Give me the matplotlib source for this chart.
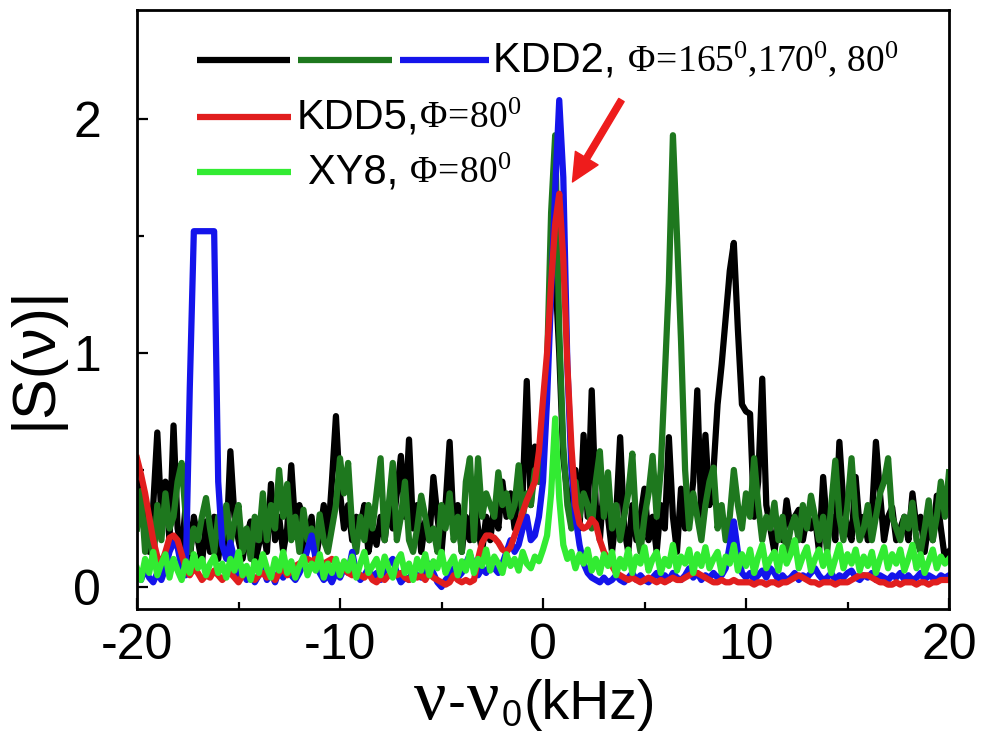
import numpy as np
import matplotlib
matplotlib.use("Agg")
import matplotlib.pyplot as plt
from matplotlib.offsetbox import TextArea, HPacker, AnnotationBbox

plt.rcParams['font.family'] = ['Liberation Sans', 'DejaVu Sans']
plt.rcParams['mathtext.fontset'] = 'custom'
plt.rcParams['mathtext.rm'] = 'Liberation Serif'
plt.rcParams['mathtext.it'] = 'Liberation Serif:italic'
plt.rcParams['mathtext.bf'] = 'Liberation Serif:bold'
plt.rcParams['mathtext.sf'] = 'Liberation Sans'
plt.rcParams['axes.unicode_minus'] = False

# frequency grid (kHz), 0.2 kHz step from -20 to 20
freq = np.linspace(-20, 20, 201)

kdd2_165 = [
    0.30, 0.45, 0.25, 0.15, 0.35, 0.66, 0.30, 0.45, 0.20, 0.69,
    0.25, 0.15, 0.35, 0.12, 0.30, 0.20, 0.10, 0.28, 0.15, 0.30,
    0.12, 0.25, 0.18, 0.58, 0.30, 0.20, 0.12, 0.22, 0.28, 0.10,
    0.18, 0.25, 0.15, 0.44, 0.20, 0.30, 0.15, 0.25, 0.52, 0.25,
    0.35, 0.15, 0.20, 0.30, 0.12, 0.22, 0.35, 0.20, 0.45, 0.73,
    0.40, 0.25, 0.35, 0.20, 0.30, 0.26, 0.35, 0.15, 0.25, 0.18,
    0.30, 0.20, 0.35, 0.25, 0.40, 0.56, 0.30, 0.63, 0.25, 0.35,
    0.15, 0.28, 0.20, 0.47, 0.30, 0.15, 0.35, 0.62, 0.25, 0.35,
    0.15, 0.30, 0.20, 0.40, 0.25, 0.15, 0.30, 0.20, 0.35, 0.25,
    0.45, 0.30, 0.40, 0.25, 0.50, 0.40, 0.88, 0.35, 0.60, 0.45,
    0.70, 0.95, 1.25, 1.35, 1.00, 0.55, 0.40, 0.30, 0.50, 0.25,
    0.65, 0.30, 0.84, 0.35, 0.20, 0.45, 0.30, 0.15, 0.30, 0.64,
    0.25, 0.15, 0.35, 0.20, 0.30, 0.42, 0.20, 0.30, 0.15, 0.35,
    0.25, 0.64, 0.30, 0.15, 0.42, 0.25, 0.30, 0.45, 0.84, 0.30,
    0.65, 0.35, 0.50, 0.78, 0.95, 1.15, 1.35, 1.47, 1.10, 0.78,
    0.75, 0.74, 0.30, 0.45, 0.89, 0.35, 0.25, 0.15, 0.28, 0.20,
    0.37, 0.25, 0.30, 0.33, 0.20, 0.30, 0.25, 0.30, 0.15, 0.47,
    0.25, 0.30, 0.20, 0.62, 0.35, 0.25, 0.20, 0.47, 0.25, 0.30,
    0.20, 0.30, 0.62, 0.40, 0.20, 0.30, 0.34, 0.20, 0.25, 0.30,
    0.20, 0.40, 0.25, 0.30, 0.15, 0.28, 0.20, 0.39, 0.25, 0.12,
    0.15]

kdd2_170 = [
    0.25, 0.41, 0.15, 0.30, 0.10, 0.35, 0.20, 0.40, 0.25, 0.30,
    0.45, 0.53, 0.30, 0.15, 0.25, 0.20, 0.30, 0.38, 0.25, 0.15,
    0.30, 0.20, 0.35, 0.18, 0.28, 0.35, 0.15, 0.25, 0.12, 0.30,
    0.20, 0.40, 0.20, 0.35, 0.25, 0.50, 0.30, 0.44, 0.20, 0.30,
    0.15, 0.33, 0.20, 0.25, 0.15, 0.31, 0.20, 0.15, 0.25, 0.35,
    0.55, 0.40, 0.53, 0.25, 0.15, 0.30, 0.20, 0.35, 0.25, 0.40,
    0.55, 0.20, 0.35, 0.53, 0.20, 0.30, 0.45, 0.20, 0.15, 0.25,
    0.39, 0.30, 0.20, 0.25, 0.15, 0.35, 0.25, 0.40, 0.20, 0.30,
    0.15, 0.45, 0.55, 0.20, 0.55, 0.30, 0.40, 0.35, 0.30, 0.49,
    0.35, 0.40, 0.30, 0.35, 0.52, 0.30, 0.40, 0.35, 0.50, 0.45,
    0.60, 0.95, 1.60, 1.93, 1.10, 0.60, 0.35, 0.25, 0.45, 0.30,
    0.40, 0.35, 0.25, 0.45, 0.58, 0.30, 0.49, 0.25, 0.35, 0.20,
    0.30, 0.40, 0.57, 0.25, 0.15, 0.30, 0.40, 0.56, 0.30, 0.50,
    0.90, 1.30, 1.93, 1.50, 1.05, 0.50, 0.25, 0.40, 0.30, 0.20,
    0.35, 0.45, 0.51, 0.25, 0.35, 0.20, 0.30, 0.50, 0.35, 0.25,
    0.40, 0.30, 0.55, 0.35, 0.20, 0.30, 0.25, 0.36, 0.20, 0.30,
    0.15, 0.25, 0.30, 0.20, 0.35, 0.25, 0.39, 0.30, 0.20, 0.30,
    0.15, 0.35, 0.54, 0.30, 0.20, 0.35, 0.55, 0.30, 0.20, 0.25,
    0.35, 0.20, 0.30, 0.40, 0.45, 0.55, 0.30, 0.25, 0.20, 0.30,
    0.25, 0.36, 0.20, 0.15, 0.25, 0.37, 0.20, 0.30, 0.45, 0.30,
    0.49]

kdd2_80 = [
    0.06, 0.03, 0.08, 0.04, 0.02, 0.06, 0.03, 0.08, 0.15, 0.19,
    0.17, 0.08, 0.05, 0.85, 1.52, 1.52, 1.52, 1.52, 1.52, 1.52,
    0.45, 0.18, 0.12, 0.19, 0.12, 0.04, 0.07, 0.03, 0.06, 0.02,
    0.05, 0.08, 0.03, 0.06, 0.02, 0.07, 0.04, 0.09, 0.05, 0.03,
    0.06, 0.10, 0.16, 0.22, 0.12, 0.06, 0.03, 0.05, 0.02, 0.06,
    0.04, 0.08, 0.06, 0.15, 0.06, 0.03, 0.05, 0.08, 0.04, 0.06,
    0.03, 0.07, 0.10, 0.12, 0.06, 0.02, 0.04, 0.03, 0.07, 0.05,
    0.04, 0.07, 0.10, 0.06, 0.02, 0.00, 0.03, 0.05, 0.08, 0.04,
    0.06, 0.10, 0.14, 0.09, 0.05, 0.08, 0.06, 0.10, 0.08, 0.06,
    0.10, 0.15, 0.20, 0.15, 0.18, 0.25, 0.30, 0.20, 0.22, 0.30,
    0.45, 0.80, 1.25, 1.70, 2.08, 1.75, 0.95, 0.50, 0.30, 0.18,
    0.10, 0.06, 0.04, 0.03, 0.02, 0.04, 0.02, 0.03, 0.05, 0.03,
    0.02, 0.04, 0.06, 0.03, 0.05, 0.03, 0.02, 0.04, 0.06, 0.03,
    0.05, 0.03, 0.06, 0.04, 0.03, 0.05, 0.08, 0.04, 0.06, 0.03,
    0.05, 0.04, 0.06, 0.04, 0.05, 0.08, 0.18, 0.28, 0.15, 0.06,
    0.04, 0.06, 0.03, 0.05, 0.07, 0.04, 0.08, 0.06, 0.03, 0.05,
    0.03, 0.04, 0.06, 0.03, 0.05, 0.04, 0.06, 0.08, 0.05, 0.03,
    0.04, 0.06, 0.03, 0.05, 0.04, 0.06, 0.07, 0.04, 0.03, 0.05,
    0.04, 0.06, 0.03, 0.05, 0.04, 0.03, 0.05, 0.04, 0.06, 0.03,
    0.05, 0.03, 0.04, 0.06, 0.03, 0.05, 0.04, 0.03, 0.05, 0.04,
    0.05]

kdd5_80 = [
    0.55, 0.48, 0.40, 0.30, 0.20, 0.13, 0.10, 0.15, 0.21, 0.22,
    0.20, 0.14, 0.08, 0.05, 0.08, 0.06, 0.03, 0.05, 0.04, 0.07,
    0.05, 0.03, 0.05, 0.06, 0.04, 0.02, 0.05, 0.07, 0.04, 0.03,
    0.05, 0.06, 0.04, 0.05, 0.03, 0.06, 0.08, 0.05, 0.07, 0.09,
    0.10, 0.11, 0.12, 0.11, 0.12, 0.11, 0.10, 0.11, 0.12, 0.10,
    0.09, 0.08, 0.06, 0.05, 0.07, 0.05, 0.04, 0.06, 0.03, 0.02,
    0.04, 0.03, 0.05, 0.06, 0.05, 0.06, 0.04, 0.03, 0.05, 0.04,
    0.05, 0.03, 0.06, 0.04, 0.03, 0.02, 0.01, 0.02, 0.05, 0.03,
    0.02, 0.03, 0.02, 0.03, 0.12, 0.19, 0.22, 0.22, 0.21, 0.19,
    0.16, 0.15, 0.17, 0.22, 0.27, 0.32, 0.37, 0.41, 0.45, 0.58,
    0.80, 1.00, 1.30, 1.55, 1.68, 1.40, 0.95, 0.60, 0.35, 0.27,
    0.25, 0.26, 0.29, 0.27, 0.20, 0.15, 0.12, 0.09, 0.06, 0.05,
    0.04, 0.03, 0.04, 0.03, 0.02, 0.03, 0.04, 0.03, 0.02, 0.03,
    0.02, 0.03, 0.04, 0.03, 0.03, 0.04, 0.05, 0.06, 0.06, 0.05,
    0.04, 0.03, 0.02, 0.02, 0.03, 0.02, 0.02, 0.03, 0.02, 0.02,
    0.02, 0.02, 0.01, 0.02, 0.02, 0.01, 0.02, 0.02, 0.01, 0.02,
    0.02, 0.03, 0.04, 0.05, 0.04, 0.03, 0.02, 0.02, 0.01, 0.02,
    0.02, 0.02, 0.01, 0.02, 0.02, 0.02, 0.03, 0.04, 0.05, 0.05,
    0.05, 0.04, 0.03, 0.02, 0.02, 0.01, 0.01, 0.02, 0.01, 0.02,
    0.02, 0.02, 0.01, 0.02, 0.02, 0.01, 0.02, 0.02, 0.03, 0.03,
    0.03]

xy8_80 = [
    0.08, 0.03, 0.12, 0.06, 0.15, 0.05, 0.10, 0.14, 0.04, 0.12,
    0.07, 0.03, 0.11, 0.06, 0.14, 0.08, 0.12, 0.05, 0.10, 0.13,
    0.06, 0.10, 0.04, 0.12, 0.07, 0.15, 0.05, 0.09, 0.03, 0.11,
    0.06, 0.14, 0.08, 0.04, 0.12, 0.07, 0.15, 0.06, 0.11, 0.04,
    0.09, 0.13, 0.05, 0.10, 0.07, 0.14, 0.04, 0.10, 0.06, 0.12,
    0.05, 0.11, 0.07, 0.13, 0.04, 0.10, 0.15, 0.06, 0.09, 0.12,
    0.05, 0.13, 0.08, 0.04, 0.11, 0.14, 0.06, 0.10, 0.03, 0.12,
    0.07, 0.14, 0.05, 0.11, 0.08, 0.15, 0.06, 0.10, 0.13, 0.05,
    0.11, 0.07, 0.15, 0.06, 0.12, 0.09, 0.16, 0.07, 0.13, 0.10,
    0.06, 0.14, 0.09, 0.12, 0.07, 0.15, 0.10, 0.08, 0.13, 0.11,
    0.16, 0.22, 0.40, 0.72, 0.38, 0.18, 0.12, 0.15, 0.08, 0.14,
    0.10, 0.16, 0.07, 0.12, 0.06, 0.14, 0.09, 0.15, 0.05, 0.12,
    0.08, 0.16, 0.06, 0.13, 0.10, 0.17, 0.07, 0.12, 0.15, 0.06,
    0.12, 0.09, 0.18, 0.07, 0.13, 0.10, 0.16, 0.06, 0.14, 0.09,
    0.17, 0.08, 0.12, 0.15, 0.06, 0.13, 0.10, 0.18, 0.07, 0.14,
    0.09, 0.16, 0.06, 0.13, 0.18, 0.08, 0.12, 0.15, 0.07, 0.17,
    0.10, 0.14, 0.20, 0.08, 0.13, 0.17, 0.07, 0.12, 0.16, 0.09,
    0.15, 0.06, 0.12, 0.18, 0.08, 0.14, 0.10, 0.16, 0.07, 0.13,
    0.09, 0.15, 0.06, 0.12, 0.17, 0.08, 0.14, 0.10, 0.16, 0.07,
    0.12, 0.18, 0.08, 0.14, 0.06, 0.11, 0.16, 0.08, 0.13, 0.10,
    0.12]

x_ticks = [-20, -10, 0, 10, 20]
y_ticks = [0, 1, 2]

c_black = '#000000'
c_dgreen = '#1e781e'
c_blue = '#1414eb'
c_red = '#e11e1e'
c_lime = '#32eb32'

fig = plt.figure(figsize=(9.83, 7.36), dpi=100)
ax = fig.add_axes([137/983, 1-609/736, (949-137)/983, (609-10)/736])

lw = 4.5
ax.plot(freq, kdd2_165, color=c_black, lw=lw)
ax.plot(freq, kdd2_170, color=c_dgreen, lw=lw)
ax.plot(freq, kdd2_80, color=c_blue, lw=lw)
ax.plot(freq, kdd5_80, color=c_red, lw=lw)
ax.plot(freq, xy8_80, color=c_lime, lw=lw)

ax.set_xlim(-20, 20)
ax.set_ylim(-0.094, 2.465)
ax.set_xticks(x_ticks)
ax.set_yticks(y_ticks)
ax.set_xticks([-15, -5, 5, 15], minor=True)
ax.set_yticks([0.5, 1.5], minor=True)
ax.tick_params(which='both', direction='in', top=False, right=False, width=1.6)
ax.tick_params(which='major', length=8)
ax.tick_params(which='minor', length=5)
ax.tick_params(axis='x', which='major', labelsize=36, pad=10)
ax.tick_params(axis='y', which='major', labelsize=36, pad=26)
for s in ax.spines.values():
    s.set_linewidth(2.0)

ax.set_ylabel('|S(ν)|', fontsize=44)
ax.yaxis.set_label_coords(-0.091, 0.42)

# x label with mixed fonts (serif nu, sans text)
serif = 'Liberation Serif'
sans = 'Liberation Sans'
xl_parts = [
    TextArea('ν', textprops=dict(family=serif, size=52)),
    TextArea('-', textprops=dict(family=sans, size=39)),
    TextArea('ν', textprops=dict(family=serif, size=52)),
    TextArea(r'$_{\mathsf{0}}$', textprops=dict(family=sans, size=37)),
    TextArea('(kHz)', textprops=dict(family=sans, size=40)),
]
xl_box = HPacker(children=xl_parts, align='baseline', pad=0, sep=1)
ax.add_artist(AnnotationBbox(xl_box, (0.49, -0.155), xycoords='axes fraction',
                             frameon=False, box_alignment=(0.5, 0.5),
                             annotation_clip=False))

# legend drawn by hand
tr = ax.transAxes
lg_lw = 4.5
ax.plot([0.074, 0.188], [0.9165, 0.9165], color=c_black, lw=lg_lw, transform=tr, solid_capstyle='butt')
ax.plot([0.198, 0.314], [0.9165, 0.9165], color=c_dgreen, lw=lg_lw, transform=tr, solid_capstyle='butt')
ax.plot([0.324, 0.434], [0.9165, 0.9165], color=c_blue, lw=lg_lw, transform=tr, solid_capstyle='butt')
ax.plot([0.074, 0.190], [0.821, 0.821], color=c_red, lw=lg_lw, transform=tr, solid_capstyle='butt')
ax.plot([0.074, 0.190], [0.7295, 0.7295], color=c_lime, lw=lg_lw, transform=tr, solid_capstyle='butt')


def legend_label(sans_txt, serif_txt, x, y):
    parts = [TextArea(sans_txt, textprops=dict(family=sans, size=30)),
             TextArea(serif_txt, textprops=dict(size=27))]
    box = HPacker(children=parts, align='baseline', pad=0, sep=0)
    ax.add_artist(AnnotationBbox(box, (x, y), xycoords='axes fraction',
                                 frameon=False, box_alignment=(0.0, 0.5)))


legend_label('KDD2, ', r'$\mathrm{Φ\!=\!165^0{,}170^0{,}\ 80^0}$', 0.438, 0.9165)
legend_label('KDD5,', r'$\mathrm{Φ\!=\!80^0}$', 0.196, 0.821)
legend_label('XY8, ', r'$\mathrm{Φ\!=\!80^0}$', 0.210, 0.7295)

# red arrow
ax.annotate('', xy=(0.5363, 0.7129), xytext=(0.5966, 0.8497),
            xycoords='axes fraction', textcoords='axes fraction',
            arrowprops=dict(facecolor='#ee1c1c', edgecolor='#ee1c1c',
                            width=4.5, headwidth=19, headlength=20, shrink=0))

fig.savefig('out.png', dpi=100)
